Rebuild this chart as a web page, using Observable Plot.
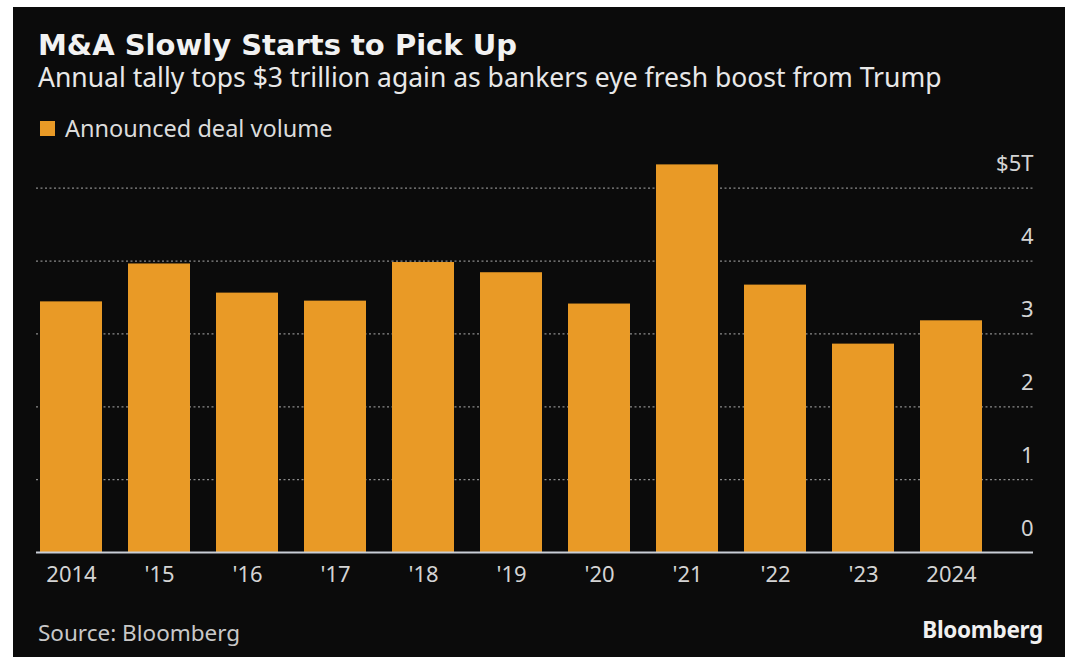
<!DOCTYPE html>
<html>
<head>
<meta charset="utf-8">
<script src="https://cdn.jsdelivr.net/npm/d3@7"></script>
<script src="https://cdn.jsdelivr.net/npm/@observablehq/plot@0.6"></script>
<style>
  html, body { margin: 0; padding: 0; background: #ffffff; width: 1065px; height: 657px; overflow: hidden; }
  #card { position: absolute; left: 13px; top: 7px; width: 1052px; height: 650px; background: #0b0b0b; font-family: "Noto Sans", sans-serif; }
  .abs { position: absolute; white-space: nowrap; }
  #title { left: 25px; top: 24px; font-family: "DejaVu Sans", sans-serif; font-size: 29px; font-weight: 700; color: #f2f2f2; line-height: 1; }
  #subtitle { left: 25px; top: 57px; font-size: 26.5px; color: #e8e8e8; line-height: 1; }
  #legend { left: 27px; top: 110px; font-size: 23.5px; color: #dcdcdc; line-height: 1; display: flex; align-items: center; }
  #legend .sw { width: 15px; height: 15px; background: #E99A26; margin-right: 10px; }
  #chart { left: 0; top: 133px; }
  #source { left: 25px; top: 615px; font-size: 22.5px; color: #c8c8c8; line-height: 1; }
  #logo { right: 22px; top: 612px; font-size: 22.5px; font-weight: 700; color: #f0f0f0; line-height: 1; letter-spacing: -0.3px; }
</style>
</head>
<body>
<div id="card">
  <div id="title" class="abs">M&amp;A Slowly Starts to Pick Up</div>
  <div id="subtitle" class="abs">Annual tally tops $3 trillion again as bankers eye fresh boost from Trump</div>
  <div id="legend" class="abs"><span class="sw"></span><span id="legendLabel"></span></div>
  <div id="chart" class="abs"></div>
  <div id="source" class="abs">Source: Bloomberg</div>
  <div id="logo" class="abs">Bloomberg</div>
</div>
<script>
const years = ["2014", "2015", "2016", "2017", "2018", "2019", "2020", "2021", "2022", "2023", "2024"];
const yearLabels = ["2014", "'15", "'16", "'17", "'18", "'19", "'20", "'21", "'22", "'23", "2024"];
const dealVolume = [3.44, 3.96, 3.56, 3.45, 3.98, 3.84, 3.41, 5.32, 3.67, 2.86, 3.18];
const yTicks = [0, 1, 2, 3, 4, 5];
const yTickLabels = ["0", "1", "2", "3", "4", "$5T"];
const seriesName = "Announced deal volume";

document.getElementById("legendLabel").textContent = seriesName;

const data = years.map((y, i) => ({year: y, value: dealVolume[i]}));
const labelOf = new Map(years.map((y, i) => [y, yearLabels[i]]));
const yLabelOf = new Map(yTicks.map((t, i) => [t, yTickLabels[i]]));

const chart = Plot.plot({
  width: 1052,
  height: 480,
  marginLeft: 23,
  marginRight: 32,
  marginTop: 47.7,
  marginBottom: 68,
  style: { background: "transparent", color: "#d4d4d4", fontFamily: "Noto Sans, sans-serif", fontSize: "22px", overflow: "visible" },
  x: { domain: years, range: [23, 972], padding: 0.3, paddingOuter: 0, label: null },
  y: { domain: [0, 5], label: null },
  marks: [
    Plot.ruleY(yTicks.filter(t => t > 0), { stroke: "#8a8a8a", strokeWidth: 1.3, strokeDasharray: "2,2.5" }),
    Plot.barY(data, { x: "year", y: "value", fill: "#E99A26" }),
    Plot.ruleY([0], { stroke: "#c9ced6", strokeWidth: 2 }),
    Plot.axisX({ tickSize: 0, tickPadding: 14, tickFormat: d => labelOf.get(d), fontSize: 22, fill: "#d4d4d4", label: null }),
    Plot.axisY(yTicks, { anchor: "right", tickSize: 0, tickPadding: 0, textAnchor: "end", dy: -24, tickFormat: d => yLabelOf.get(d), fontSize: 22, fill: "#d4d4d4", label: null })
  ]
});
document.getElementById("chart").appendChild(chart);
</script>
</body>
</html>
